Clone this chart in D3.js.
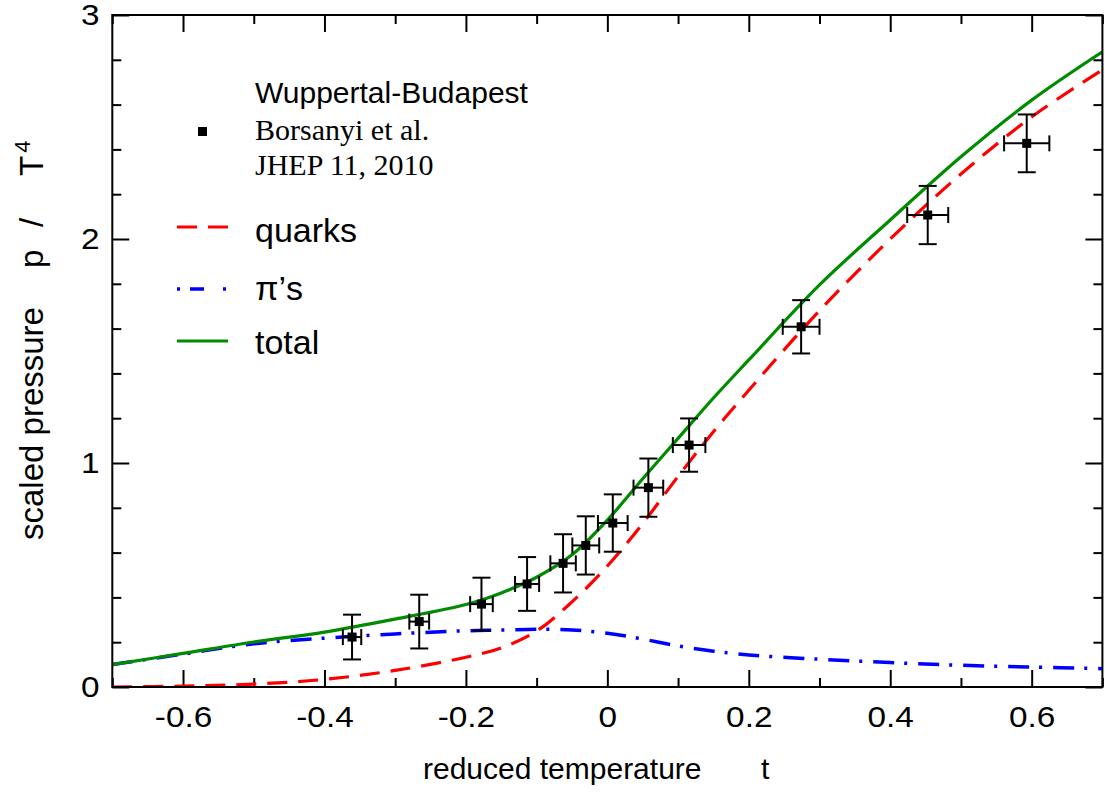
<!DOCTYPE html>
<html>
<head>
<meta charset="utf-8">
<script src="https://cdn.jsdelivr.net/npm/d3@7"></script>
<style>
  body { margin: 0; background: #fff; }
  svg text { font-family: "Liberation Sans", Arial, Helvetica, sans-serif; fill: #000; }
</style>
</head>
<body>
<div id="content"></div>
<script>
// curve samples, reduced temperature t
const tGrid = [-0.7, -0.6, -0.5, -0.4, -0.3, -0.2, -0.15, -0.1, -0.05, 0, 0.05, 0.1, 0.15, 0.2, 0.3, 0.4, 0.5, 0.6, 0.7];
const quarks = [0.0, 0.004, 0.013, 0.034, 0.074, 0.133, 0.175, 0.25, 0.38, 0.54, 0.73, 0.94, 1.14, 1.325, 1.68, 2.0, 2.29, 2.545, 2.755];
const pions = [0.10, 0.147, 0.193, 0.218, 0.237, 0.251, 0.254, 0.258, 0.255, 0.24, 0.214, 0.183, 0.16, 0.143, 0.124, 0.109, 0.097, 0.089, 0.082];
const total = [0.10, 0.150, 0.201, 0.245, 0.303, 0.368, 0.42, 0.49, 0.59, 0.745, 0.93, 1.11, 1.29, 1.46, 1.795, 2.085, 2.367, 2.62, 2.836];

// lattice points (Borsanyi et al.)
const latT = [-0.361, -0.266, -0.178, -0.1135, -0.0626, -0.0305, 0.0077, 0.058, 0.1156, 0.274, 0.453, 0.593];
const latP = [0.223, 0.292, 0.37, 0.46, 0.552, 0.632, 0.732, 0.89, 1.08, 1.608, 2.107, 2.427];
const latPErr = [0.10, 0.12, 0.118, 0.12, 0.13, 0.13, 0.128, 0.13, 0.119, 0.119, 0.13, 0.129];
const latTErr = [0.013, 0.014, 0.016, 0.017, 0.018, 0.019, 0.021, 0.021, 0.023, 0.026, 0.029, 0.032];

const xMajor = [-0.6, -0.4, -0.2, 0, 0.2, 0.4, 0.6];
const xMinor = [-0.7, -0.5, -0.3, -0.1, 0.1, 0.3, 0.5, 0.7];
const yMajor = [0, 1, 2, 3];
const yMinor = [0.2, 0.4, 0.6, 0.8, 1.2, 1.4, 1.6, 1.8, 2.2, 2.4, 2.6, 2.8];

const svg = d3.select("#content").append("svg")
  .attr("width", 1105)
  .attr("height", 797);

const L = 112.3, R = 1102.4, T = 15, B = 687;

const x = d3.scaleLinear().domain([-0.7, 0.7]).range([L, R]);
const y = d3.scaleLinear().domain([0, 3]).range([B, T]);

const fmt = d => d === 0 ? "0" : String(d);

// axes, ticks pointing inward
function styleAxis(g) {
  g.select(".domain").remove();
  g.selectAll(".tick line").attr("stroke", "#000").attr("stroke-width", 2);
  g.selectAll("text").attr("font-size", 29).attr("fill", "#000")
    .attr("transform", "scale(1.15,1)");
}

svg.append("g").attr("transform", `translate(0,${B})`)
  .call(d3.axisBottom(x).tickValues(xMajor).tickSize(-17).tickPadding(19).tickFormat(fmt)).call(styleAxis);
svg.append("g").attr("transform", `translate(0,${B})`)
  .call(d3.axisBottom(x).tickValues(xMinor).tickSize(-9).tickFormat("")).call(styleAxis);
svg.append("g").attr("transform", `translate(0,${T})`)
  .call(d3.axisTop(x).tickValues(xMajor).tickSize(-17).tickFormat("")).call(styleAxis);
svg.append("g").attr("transform", `translate(0,${T})`)
  .call(d3.axisTop(x).tickValues(xMinor).tickSize(-9).tickFormat("")).call(styleAxis);

svg.append("g").attr("transform", `translate(${L},0)`)
  .call(d3.axisLeft(y).tickValues(yMajor).tickSize(-17).tickPadding(11).tickFormat(d3.format("d"))).call(styleAxis);
svg.append("g").attr("transform", `translate(${L},0)`)
  .call(d3.axisLeft(y).tickValues(yMinor).tickSize(-9).tickFormat("")).call(styleAxis);
svg.append("g").attr("transform", `translate(${R},0)`)
  .call(d3.axisRight(y).tickValues(yMajor).tickSize(-17).tickFormat("")).call(styleAxis);
svg.append("g").attr("transform", `translate(${R},0)`)
  .call(d3.axisRight(y).tickValues(yMinor).tickSize(-9).tickFormat("")).call(styleAxis);

// curves
svg.append("clipPath").attr("id", "clip")
  .append("rect").attr("x", L).attr("y", T).attr("width", R - L).attr("height", B - T);

const line = d3.line()
  .x(d => x(d[0]))
  .y(d => y(d[1]))
  .curve(d3.curveCatmullRom.alpha(0.5));

const plot = svg.append("g").attr("clip-path", "url(#clip)");

plot.append("path")
  .datum(tGrid.map((t, i) => [t, pions[i]]))
  .attr("fill", "none").attr("stroke", "#0000ff").attr("stroke-width", 3.5)
  .attr("stroke-dasharray", "21,10,3,11")
  .attr("d", line);

plot.append("path")
  .datum(tGrid.map((t, i) => [t, quarks[i]]))
  .attr("fill", "none").attr("stroke", "#ff0000").attr("stroke-width", 3.2)
  .attr("stroke-dasharray", "20,11")
  .attr("d", line);

plot.append("path")
  .datum(tGrid.map((t, i) => [t, total[i]]))
  .attr("fill", "none").attr("stroke", "#008b00").attr("stroke-width", 3.2)
  .attr("d", line);

// error bars
const pts = latT.map((t, i) => ({ t: t, p: latP[i], ep: latPErr[i], et: latTErr[i] }));
const eb = svg.append("g").attr("stroke", "#000").attr("stroke-width", 2).attr("fill", "none");

pts.forEach(d => {
  const cx = x(d.t), cy = y(d.p);
  const y0 = y(d.p - d.ep), y1 = y(d.p + d.ep);
  const x0 = x(d.t - d.et), x1 = x(d.t + d.et);
  eb.append("line").attr("x1", cx).attr("x2", cx).attr("y1", y0).attr("y2", y1);
  eb.append("line").attr("x1", cx - 9).attr("x2", cx + 9).attr("y1", y0).attr("y2", y0);
  eb.append("line").attr("x1", cx - 9).attr("x2", cx + 9).attr("y1", y1).attr("y2", y1);
  eb.append("line").attr("x1", x0).attr("x2", x1).attr("y1", cy).attr("y2", cy);
  eb.append("line").attr("x1", x0).attr("x2", x0).attr("y1", cy - 8).attr("y2", cy + 8);
  eb.append("line").attr("x1", x1).attr("x2", x1).attr("y1", cy - 8).attr("y2", cy + 8);
});

svg.append("g").selectAll("rect")
  .data(pts)
  .enter().append("rect")
  .attr("x", d => x(d.t) - 4.5)
  .attr("y", d => y(d.p) - 4.5)
  .attr("width", 9).attr("height", 9)
  .attr("fill", "#000");

// frame
svg.append("rect")
  .attr("x", L).attr("y", T).attr("width", R - L).attr("height", B - T)
  .attr("fill", "none").attr("stroke", "#000").attr("stroke-width", 2);

// axis titles
svg.append("text")
  .attr("x", 423).attr("y", 779)
  .attr("font-size", 30)
  .text("reduced temperature");
svg.append("text")
  .attr("x", 761).attr("y", 779)
  .attr("font-size", 30)
  .text("t");

const yt = svg.append("text")
  .attr("transform", "translate(43,540) rotate(-90)")
  .attr("font-size", 33);
yt.append("tspan").text("scaled pressure");
yt.append("tspan").attr("x", 272).text("p");
yt.append("tspan").attr("x", 313).text("/");
yt.append("tspan").attr("x", 364).text("T");
yt.append("tspan").attr("font-size", 22).attr("dx", 3).attr("dy", -13).text("4");

// legend
const lg = svg.append("g");
lg.append("text").attr("x", 255).attr("y", 103).attr("font-size", 30).text("Wuppertal-Budapest");
lg.append("rect").attr("x", 198).attr("y", 127).attr("width", 9).attr("height", 9).attr("fill", "#000");
lg.append("text").attr("x", 255).attr("y", 140).attr("font-size", 30)
  .style("font-family", "'Liberation Serif', 'Times New Roman', serif").text("Borsanyi et al.");
lg.append("text").attr("x", 255).attr("y", 175).attr("font-size", 30)
  .style("font-family", "'Liberation Serif', 'Times New Roman', serif").text("JHEP 11, 2010");

const legendRows = [
  { label: "quarks", color: "#ff0000", dash: "20,11", w: 3.2, y: 227, ty: 242 },
  { label: "π’s", color: "#0000ff", dash: "3,10,14,19,3", w: 3.5, y: 289, ty: 300 },
  { label: "total", color: "#008b00", dash: null, w: 3.2, y: 341, ty: 354 }
];
legendRows.forEach(r => {
  lg.append("line").attr("x1", 177).attr("x2", 228).attr("y1", r.y).attr("y2", r.y)
    .attr("stroke", r.color).attr("stroke-width", r.w)
    .attr("stroke-dasharray", r.dash);
  lg.append("text").attr("x", 255).attr("y", r.ty).attr("font-size", 34).text(r.label);
});
</script>
</body>
</html>
